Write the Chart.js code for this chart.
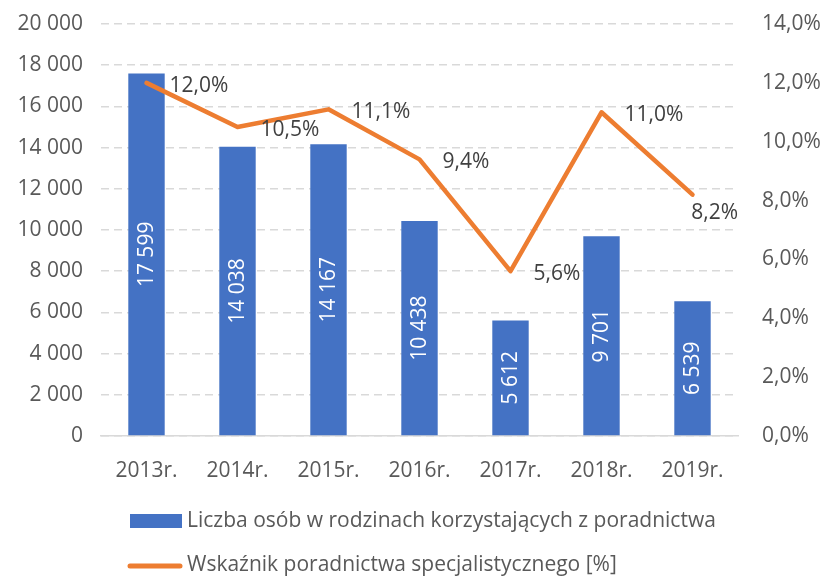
<!DOCTYPE html>
<html>
<head>
<meta charset="utf-8">
<script src="https://cdn.jsdelivr.net/npm/chart.js@4.4.1/dist/chart.umd.min.js"></script>
<style>
  html, body { margin: 0; padding: 0; background: #fff; }
  #wrap { width: 828px; height: 577px; }
</style>
</head>
<body>
<div id="wrap"><canvas id="myChart"></canvas></div>
<script>
const years = ['2013r.', '2014r.', '2015r.', '2016r.', '2017r.', '2018r.', '2019r.'];
const persons = [17599, 14038, 14167, 10438, 5612, 9701, 6539];
const ratePct = [12.0, 10.5, 11.1, 9.4, 5.6, 11.0, 8.2];

const FONT = "'Open Sans', sans-serif";
const TEXT = '#595959';
const BLUE = '#4472C4';
const ORANGE = '#ED7D31';

const fmtNum = (v) => String(v).replace(/\B(?=(\d{3})+(?!\d))/g, ' ');
const fmtPct = (v) => v.toFixed(1).replace('.', ',') + '%';

// white rotated values inside bars
const barLabels = {
  id: 'barLabels',
  afterDatasetsDraw(chart) {
    const ctx = chart.ctx;
    const meta = chart.getDatasetMeta(0);
    ctx.save();
    ctx.font = '21px ' + FONT;
    ctx.fillStyle = '#ffffff';
    ctx.textAlign = 'center';
    ctx.textBaseline = 'middle';
    meta.data.forEach((bar, i) => {
      ctx.save();
      ctx.translate(bar.x, (bar.y + bar.base) / 2);
      ctx.rotate(-Math.PI / 2);
      ctx.fillText(fmtNum(persons[i]), 0, 1);
      ctx.restore();
    });
    ctx.restore();
  }
};

// percent labels to the right of line points
const lineLabels = {
  id: 'lineLabels',
  afterDatasetsDraw(chart) {
    const ctx = chart.ctx;
    const area = chart.chartArea;
    const meta = chart.getDatasetMeta(1);
    ctx.save();
    ctx.font = '21px ' + FONT;
    ctx.fillStyle = '#404040';
    ctx.textAlign = 'left';
    ctx.textBaseline = 'middle';
    meta.data.forEach((pt, i) => {
      const txt = fmtPct(ratePct[i]);
      const w = ctx.measureText(txt).width;
      let x = pt.x + 23;
      let y = pt.y + 3;
      if (x + w > area.right) {
        x = area.right - w;
        y = pt.y + 18;
      }
      ctx.fillText(txt, x, y);
    });
    ctx.restore();
  }
};

// two-row legend under the axis
const bottomLegend = {
  id: 'bottomLegend',
  afterDraw(chart) {
    const ctx = chart.ctx;
    const ds = chart.data.datasets;
    ctx.save();
    ctx.font = '21px ' + FONT;
    ctx.textAlign = 'left';
    ctx.textBaseline = 'middle';

    ctx.fillStyle = ds[0].backgroundColor;
    ctx.fillRect(130, 514, 52, 14);
    ctx.fillStyle = TEXT;
    ctx.fillText(ds[0].label, 187, 521);

    ctx.strokeStyle = ds[1].borderColor;
    ctx.lineWidth = 5;
    ctx.lineCap = 'round';
    ctx.beginPath();
    ctx.moveTo(130, 566);
    ctx.lineTo(180, 566);
    ctx.stroke();
    ctx.fillText(ds[1].label, 187, 565);
    ctx.restore();
  }
};

// fixed side widths, no extra vertical padding for end labels
const sideFit = (width) => (scale) => {
  scale.width = width;
  scale.paddingTop = 0;
  scale.paddingBottom = 0;
};

new Chart(document.getElementById('myChart'), {
  data: {
    labels: years,
    datasets: [
      {
        type: 'bar',
        label: 'Liczba osób w rodzinach korzystających z poradnictwa',
        data: persons,
        backgroundColor: BLUE,
        yAxisID: 'y',
        barPercentage: 0.4,
        categoryPercentage: 1,
        order: 2,
      },
      {
        type: 'line',
        label: 'Wskaźnik poradnictwa specjalistycznego [%]',
        data: ratePct,
        borderColor: ORANGE,
        borderWidth: 4.5,
        pointRadius: 0,
        borderCapStyle: 'round',
        borderJoinStyle: 'round',
        tension: 0,
        fill: false,
        yAxisID: 'y1',
        order: 1,
      },
    ],
  },
  options: {
    responsive: true,
    maintainAspectRatio: false,
    animation: false,
    layout: { padding: { top: 24, bottom: 91, left: 0, right: 0 } },
    plugins: {
      legend: { display: false },
      tooltip: { enabled: false },
    },
    scales: {
      x: {
        grid: { display: false },
        border: { color: '#d9d9d9', width: 1.5 },
        ticks: { color: TEXT, font: { family: FONT, size: 21 }, padding: 14 },
        afterFit(scale) {
          scale.height = 50;
          scale.paddingLeft = 0;
          scale.paddingRight = 0;
        },
      },
      y: {
        position: 'left',
        min: 0,
        max: 20000,
        ticks: {
          stepSize: 2000,
          color: TEXT,
          padding: 18,
          font: { family: FONT, size: 21 },
          callback: (v) => fmtNum(v),
        },
        grid: { color: '#d9d9d9', lineWidth: 1.5, drawTicks: false },
        border: { display: false, dash: [8, 5] },
        afterFit: sideFit(101),
      },
      y1: {
        position: 'right',
        min: 0,
        max: 14,
        ticks: {
          stepSize: 2,
          color: TEXT,
          padding: 24,
          font: { family: FONT, size: 21 },
          callback: (v) => fmtPct(v),
        },
        grid: { drawOnChartArea: false, drawTicks: false },
        border: { display: false },
        afterFit: sideFit(90),
      },
    },
  },
  plugins: [barLabels, lineLabels, bottomLegend],
});
</script>
</body>
</html>
